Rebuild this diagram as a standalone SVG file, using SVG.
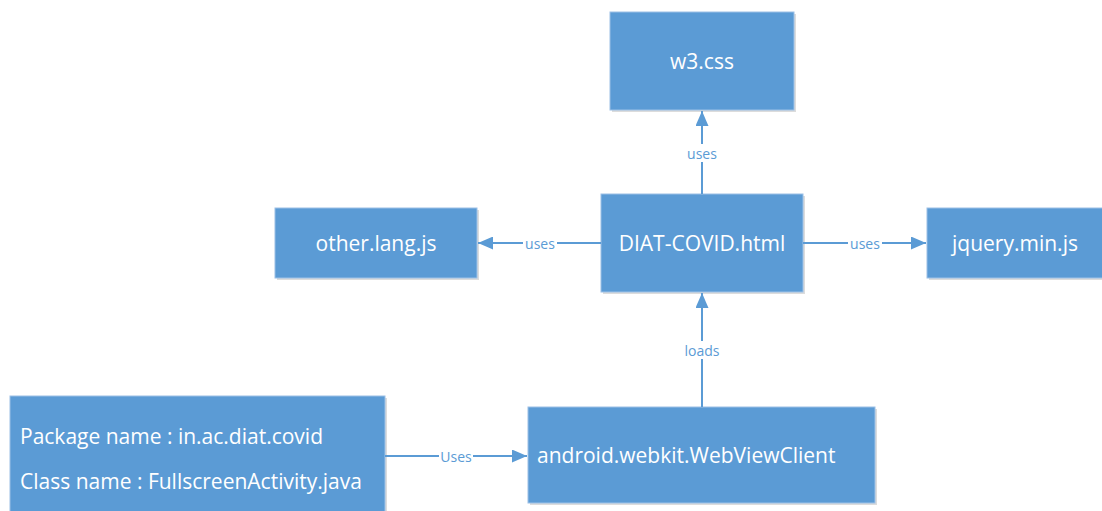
<svg xmlns="http://www.w3.org/2000/svg" width="1102" height="511" viewBox="0 0 1102 511">
<defs>
<style>
.box{fill:#5B9BD5;stroke:#9CC0E6;stroke-width:1}
.shadow{fill:#DCDCDC}
.t{font-family:"Open Sans","Liberation Sans",sans-serif;font-size:21px;fill:#FFFFFF}
.c{text-anchor:middle;dominant-baseline:central}
.edge{stroke:#5B9BD5;stroke-width:2;fill:none;marker-end:url(#ah)}
.lbl{font-family:"Open Sans","Liberation Sans",sans-serif;font-size:14px;fill:#5B9BD5;text-anchor:middle;dominant-baseline:central}
.lb{fill:#FFFFFF}
</style>
<marker id="ah" viewBox="0 0 15 13" refX="15" refY="6.5" markerWidth="15" markerHeight="13" markerUnits="userSpaceOnUse" orient="auto">
<path d="M0,0 L15,6.5 L0,13 z" fill="#5B9BD5"/>
</marker>
</defs>
<rect width="1102" height="511" fill="#FFFFFF"/>
<g id="n-w3css">
<rect class="shadow" x="612" y="14" width="184" height="98"/>
<rect class="box" x="610" y="12" width="184" height="98"/>
<text class="t c" x="702" y="61">w3.css</text>
</g>
<g id="n-diat">
<rect class="shadow" x="603" y="196" width="202" height="98"/>
<rect class="box" x="601" y="194" width="202" height="98"/>
<text class="t c" x="702" y="243">DIAT-COVID.html</text>
</g>
<g id="n-otherlang">
<rect class="shadow" x="277" y="210" width="202" height="70"/>
<rect class="box" x="275" y="208" width="202" height="70"/>
<text class="t c" x="376" y="243">other.lang.js</text>
</g>
<g id="n-jquery">
<rect class="shadow" x="929" y="210" width="180" height="70"/>
<rect class="box" x="927" y="208" width="180" height="70"/>
<text class="t c" x="1015" y="243">jquery.min.js</text>
</g>
<g id="n-webview">
<rect class="shadow" x="530" y="409" width="347" height="96"/>
<rect class="box" x="528" y="407" width="347" height="96"/>
<text class="t" x="537" y="455" dominant-baseline="central">android.webkit.WebViewClient</text>
</g>
<g id="n-package">
<rect class="shadow" x="12" y="398" width="375" height="120"/>
<rect class="box" x="10" y="396" width="375" height="120"/>
<text class="t" x="20" y="436" dominant-baseline="central">Package name : in.ac.diat.covid</text>
<text class="t" x="20" y="481" dominant-baseline="central">Class name : FullscreenActivity.java</text>
</g>
<g id="connectors">
<path class="edge" d="M702,194 L702,111"/>
<rect class="lb" x="685" y="144" width="34" height="18"/>
<text class="lbl" x="702" y="153">uses</text>
<path class="edge" d="M601,243 L478,243"/>
<rect class="lb" x="523" y="234" width="34" height="18"/>
<text class="lbl" x="540" y="243">uses</text>
<path class="edge" d="M803,243 L926,243"/>
<rect class="lb" x="848" y="234" width="34" height="18"/>
<text class="lbl" x="865" y="243">uses</text>
<path class="edge" d="M702,407 L702,293"/>
<rect class="lb" x="682" y="341" width="40" height="18"/>
<text class="lbl" x="702" y="350">loads</text>
<path class="edge" d="M385,456 L527,456"/>
<rect class="lb" x="439" y="447" width="34" height="18"/>
<text class="lbl" x="456" y="456">Uses</text>
</g>
</svg>
